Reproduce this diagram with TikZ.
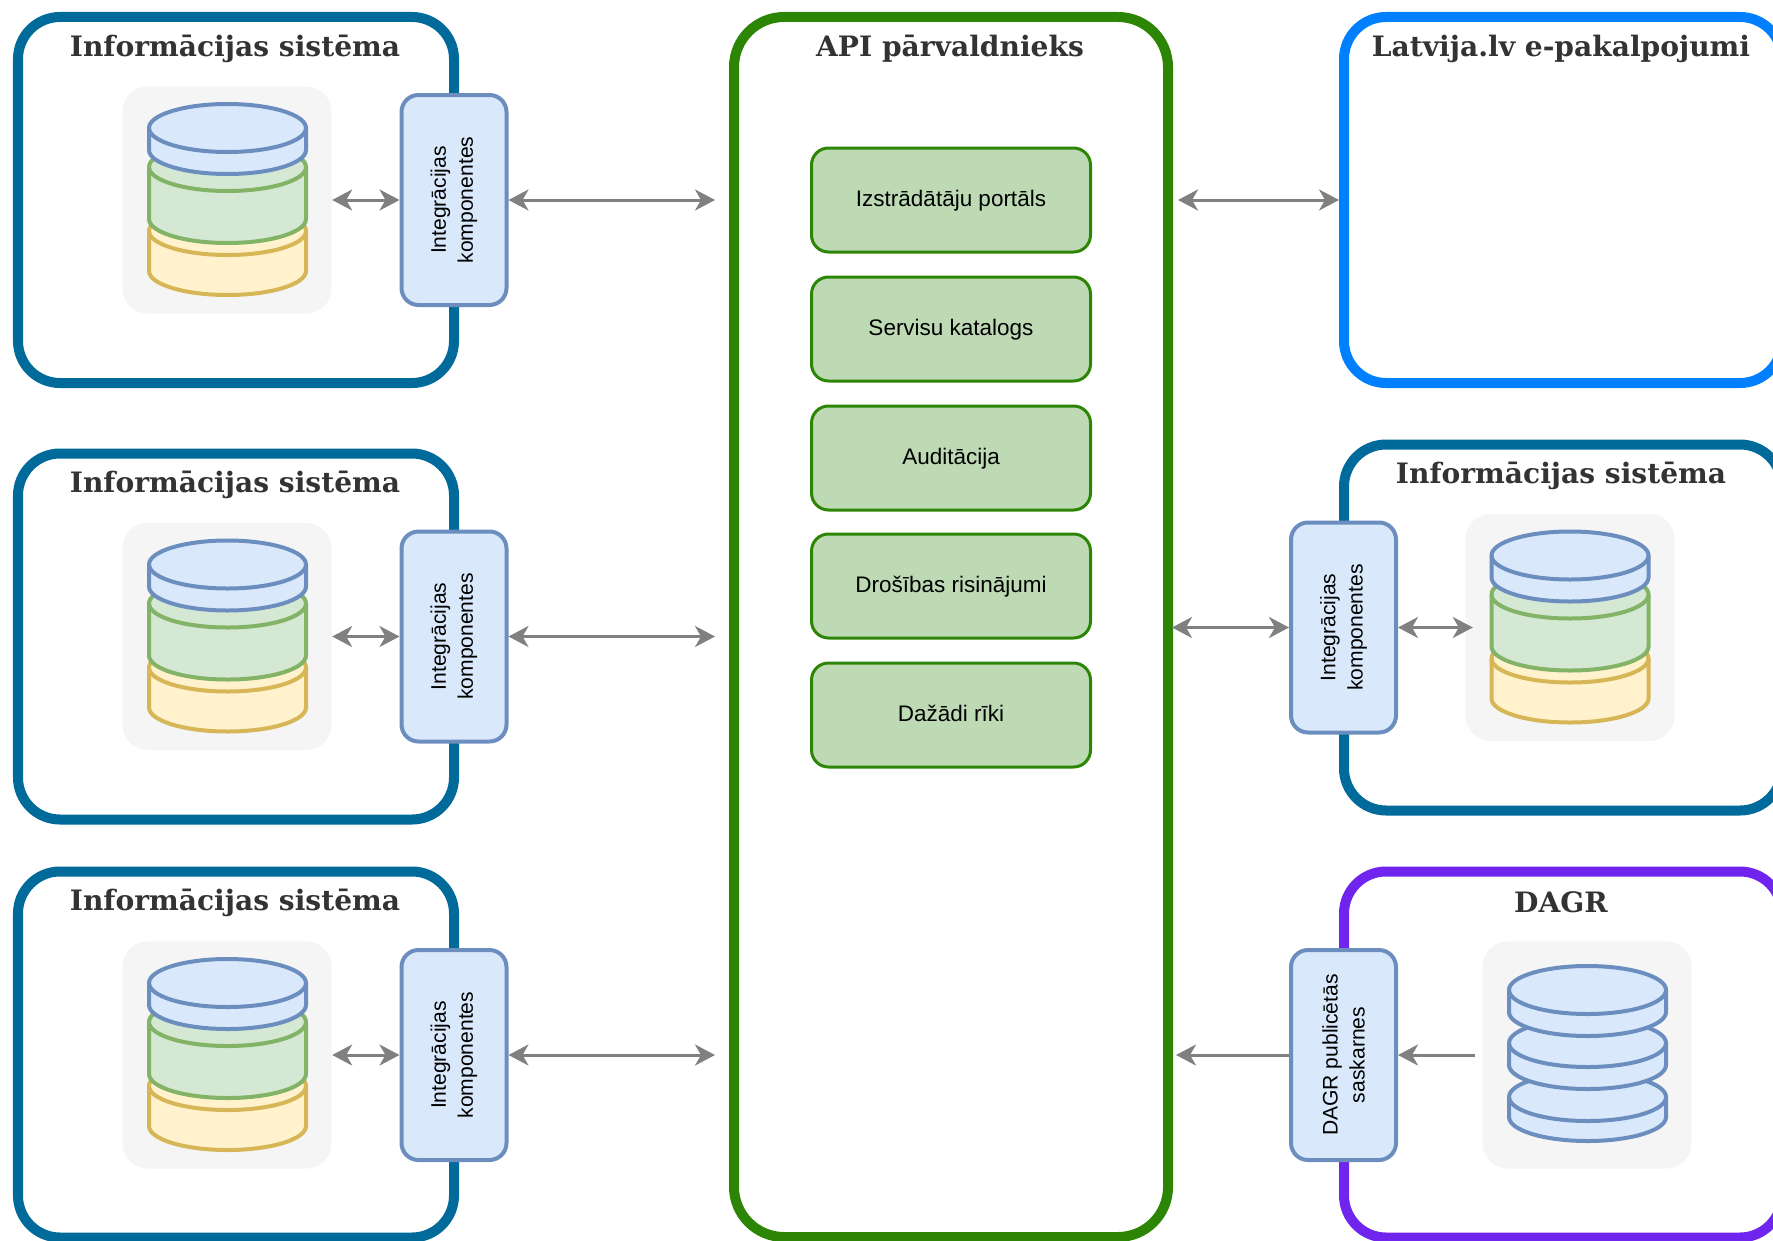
\documentclass[tikz,border=0pt]{standalone}
\usepackage{fontspec}
\setmainfont{Liberation Sans}
\newfontfamily\titlefont{DejaVu Serif}
\usetikzlibrary{arrows.meta}
\definecolor{isblue}{HTML}{006A9B}
\definecolor{lvblue}{HTML}{007FFF}
\definecolor{apigreen}{HTML}{2D8505}
\definecolor{dagrviolet}{HTML}{7025EE}
\definecolor{toolfill}{HTML}{BDDAB5}
\definecolor{compfill}{HTML}{DAE8FC}
\definecolor{compline}{HTML}{6C8EBF}
\definecolor{midfill}{HTML}{D5E8D4}
\definecolor{midline}{HTML}{82B366}
\definecolor{lowfill}{HTML}{FFF2CC}
\definecolor{lowline}{HTML}{D6B656}
\tikzset{
  frame/.style={draw,line width=0.1cm,rounded corners=0.42cm,inner sep=0,minimum width=4.36cm,minimum height=3.66cm},
  heading/.style={text=black!80,font=\titlefont\bfseries\fontsize{8}{9.6}\selectfont},
  backing/.style={fill=black!4,rounded corners=0.25cm,inner sep=0,minimum width=2.09cm,minimum height=2.27cm},
  comp/.style={draw=compline,fill=compfill,line width=0.04cm,rounded corners=0.17cm,inner sep=0,rotate=90,align=center,minimum width=2.1cm,minimum height=1.05cm,font=\fontsize{6}{7.7}\selectfont},
  tool/.style={draw=apigreen,fill=toolfill,line width=0.03cm,rounded corners=0.17cm,inner sep=0,minimum width=2.79cm,minimum height=1.04cm,text height=0.16cm,text depth=0.04cm,font=\fontsize{6.4}{7.6}\selectfont},
  link/.style={draw=black!50,line width=0.03cm,{Stealth[length=0.2cm,width=0.21cm,inset=0.06cm]}-{Stealth[length=0.2cm,width=0.21cm,inset=0.06cm]}},
  linkback/.style={draw=black!50,line width=0.03cm,{Stealth[length=0.2cm,width=0.21cm,inset=0.06cm]}-},
  topdisk/.style={draw=compline,fill=compfill,line width=0.04cm},
  middisk/.style={draw=midline,fill=midfill,line width=0.04cm},
  lowdisk/.style={draw=lowline,fill=lowfill,line width=0.04cm}
}
\newcommand{\dblayer}[4]{% style, x radius, top, side height
  \draw[#1] (-#2,#3) -- ++(0,-#4) arc[start angle=180,end angle=360,x radius=#2,y radius=0.24] -- ++(0,#4) arc[start angle=0,end angle=180,x radius=#2,y radius=0.24] -- cycle;
  \draw[#1,fill=none] (-#2,#3) arc[start angle=180,end angle=360,x radius=#2,y radius=0.24];
}
\newcommand{\dbstack}[2]{%
  \begin{scope}[shift={(#1,#2)}]
    \dblayer{lowdisk}{0.785}{-0.31}{0.40}
    \dblayer{middisk}{0.785}{0.33}{0.52}
    \dblayer{topdisk}{0.785}{0.72}{0.22}
  \end{scope}
}
\begin{document}
\begin{tikzpicture}
\useasboundingbox (0,0) rectangle (17.73,12.40);
% left column
\draw (2.36,10.40) node[frame,draw=isblue](isone) {};
\draw (2.36,6.035) node[frame,draw=isblue](istwo) {};
\draw (2.36,1.855) node[frame,draw=isblue](isthree) {};
\draw (2.35,11.915) node[heading](headone) {Informācijas sistēma};
\draw (2.35,7.555) node[heading](headtwo) {Informācijas sistēma};
\draw (2.35,3.375) node[heading](headthree) {Informācijas sistēma};
\draw (2.27,10.40) node[backing](backone) {};
\draw (2.27,6.035) node[backing](backtwo) {};
\draw (2.27,1.85) node[backing](backthree) {};
\dbstack{2.275}{10.40}
\dbstack{2.275}{6.035}
\dbstack{2.275}{1.85}
\draw (4.54,10.40) node[comp](compone) {Integrācijas\\komponentes};
\draw (4.54,6.035) node[comp](comptwo) {Integrācijas\\komponentes};
\draw (4.54,1.85) node[comp](compthree) {Integrācijas\\komponentes};
% middle
\draw (9.51,6.13) node[frame,draw=apigreen,rounded corners=0.5cm,minimum width=4.34cm,minimum height=12.2cm](api) {};
\draw (9.50,11.915) node[heading](headapi) {API pārvaldnieks};
\draw (9.51,10.40) node[tool](toolone) {Izstrādātāju portāls};
\draw (9.51,9.11) node[tool](tooltwo) {Servisu katalogs};
\draw (9.51,7.82) node[tool](toolthree) {Auditācija};
\draw (9.51,6.54) node[tool](toolfour) {Drošības risinājumi};
\draw (9.51,5.25) node[tool](toolfive) {Dažādi rīki};
\coordinate (apione) at (7.15,10.40);
\coordinate (apitwo) at (7.15,6.035);
\coordinate (apithree) at (7.15,1.85);
\coordinate (apifour) at (11.78,10.40);
\coordinate (apifive) at (11.72,6.125);
\coordinate (apisix) at (11.76,1.85);
% right column
\draw (15.63,10.40) node[frame,draw=lvblue,minimum width=4.38cm](lv) {};
\draw (15.63,6.125) node[frame,draw=isblue,minimum width=4.38cm](isfour) {};
\draw (15.63,1.855) node[frame,draw=dagrviolet,minimum width=4.38cm](dagr) {};
\draw (15.61,11.915) node[heading](headlv) {Latvija.lv e-pakalpojumi};
\draw (15.61,7.645) node[heading](headfour) {Informācijas sistēma};
\draw (15.61,3.375) node[heading](headdagr) {DAGR};
\draw (15.70,6.125) node[backing](backfour) {};
\draw (15.87,1.85) node[backing](backdagr) {};
\dbstack{15.70}{6.125}
\begin{scope}[shift={(15.875,1.85)}]
  \dblayer{topdisk}{0.785}{-0.42}{0.20}
  \dblayer{topdisk}{0.785}{0.12}{0.22}
  \dblayer{topdisk}{0.785}{0.65}{0.22}
\end{scope}
\draw (13.435,6.125) node[comp](compfour) {Integrācijas\\komponentes};
\draw (13.435,1.85) node[comp](compdagr) {DAGR publicētās\\saskarnes};
% links
\draw[link] (backone.east) -- (compone.north);
\draw[link] (backtwo.east) -- (comptwo.north);
\draw[link] (backthree.east) -- (compthree.north);
\draw[link] (compone.south) -- (apione);
\draw[link] (comptwo.south) -- (apitwo);
\draw[link] (compthree.south) -- (apithree);
\draw[link] (apifour) -- (lv.west);
\draw[link] (apifive) -- (compfour.north);
\draw[link,shorten >=-0.08cm] (compfour.south) -- (backfour.west);
\draw[linkback] (apisix) -- (compdagr.north);
\draw[linkback,shorten >=0.07cm] (compdagr.south) -- (backdagr.west);
\end{tikzpicture}
\end{document}
